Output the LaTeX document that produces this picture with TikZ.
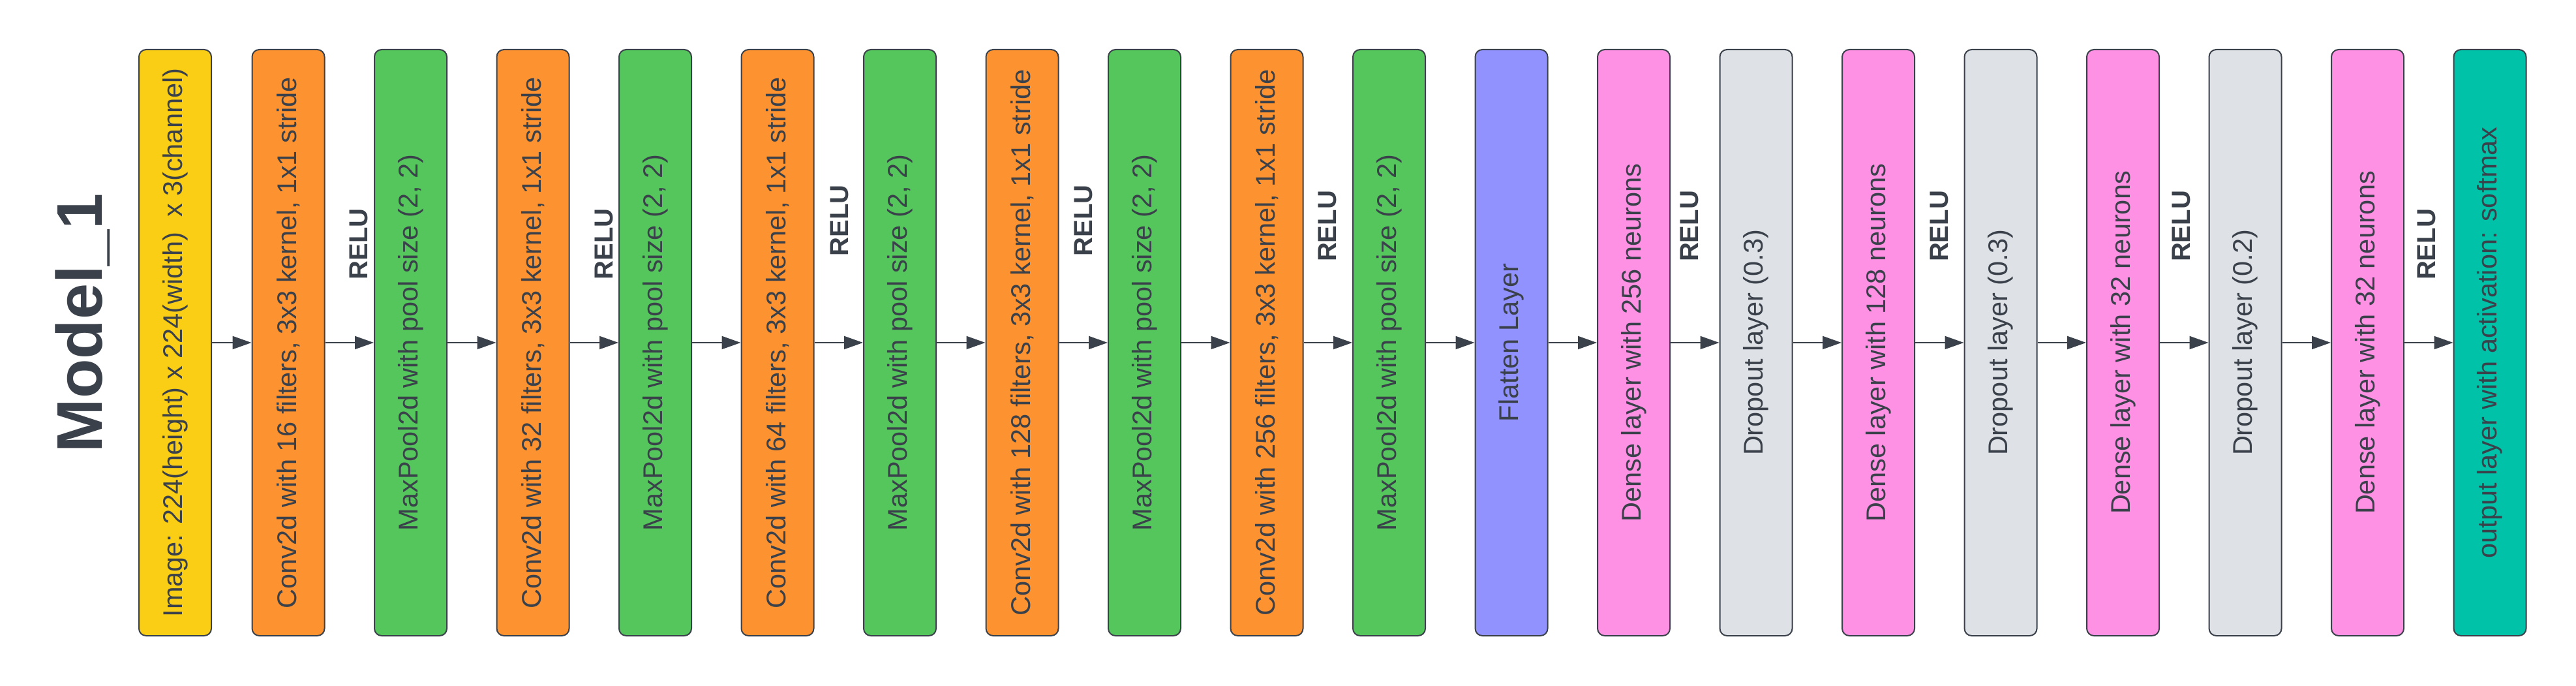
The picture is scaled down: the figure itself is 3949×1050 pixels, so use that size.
\documentclass[tikz,border=0pt]{standalone}
\usepackage{fontspec}
\setmainfont{Liberation Sans}
\usetikzlibrary{arrows.meta}
\definecolor{ink}{RGB}{58,65,74}
\definecolor{cyellow}{RGB}{250,206,20}
\definecolor{corange}{RGB}{252,146,48}
\definecolor{cgreen}{RGB}{84,198,92}
\definecolor{cpurple}{RGB}{146,146,255}
\definecolor{cpink}{RGB}{255,145,228}
\definecolor{cgrey}{RGB}{222,225,230}
\definecolor{cteal}{RGB}{0,194,168}
\begin{document}
\begin{tikzpicture}[x=1pt,y=1pt,
  layer/.style={draw=ink, line width=2pt, rounded corners=11pt, rotate=90,
    minimum width=898pt, minimum height=111pt, inner sep=0pt, text=ink,
    font=\fontsize{41.5}{49}\selectfont, anchor=center},
  relu/.style={rotate=90, anchor=base, inner sep=0pt, text=ink,
    font=\bfseries\fontsize{40}{48}\selectfont},
  conn/.style={draw=ink, line width=2pt, -{Triangle[length=29pt,width=20pt]}}]
\useasboundingbox (0,0) rectangle (3949,1050);

\node[rotate=90, anchor=base, inner sep=0pt, text=ink,
  font=\bfseries\fontsize{99}{110}\selectfont] (title) at (156,555) {Model\_1};

\node[layer, fill=cyellow] (n0) at (268.5,525) {Image: 224(height) x 224(width)\hspace{0.55em}x 3(channel)};
\node[layer, fill=corange] (n1) at (442,525) {Conv2d with 16 filters, 3x3 kernel, 1x1 stride};
\node[layer, fill=cgreen] (n2) at (629.5,525) {MaxPool2d with pool size (2, 2)};
\node[layer, fill=corange] (n3) at (817,525) {Conv2d with 32 filters, 3x3 kernel, 1x1 stride};
\node[layer, fill=cgreen] (n4) at (1004.5,525) {MaxPool2d with pool size (2, 2)};
\node[layer, fill=corange] (n5) at (1192,525) {Conv2d with 64 filters, 3x3 kernel, 1x1 stride};
\node[layer, fill=cgreen] (n6) at (1379.5,525) {MaxPool2d with pool size (2, 2)};
\node[layer, fill=corange] (n7) at (1567,525) {Conv2d with 128 filters, 3x3 kernel, 1x1 stride};
\node[layer, fill=cgreen] (n8) at (1754.5,525) {MaxPool2d with pool size (2, 2)};
\node[layer, fill=corange] (n9) at (1942,525) {Conv2d with 256 filters, 3x3 kernel, 1x1 stride};
\node[layer, fill=cgreen] (n10) at (2129.5,525) {MaxPool2d with pool size (2, 2)};
\node[layer, fill=cpurple] (n11) at (2317,525) {Flatten Layer};
\node[layer, fill=cpink] (n12) at (2504.5,525) {Dense layer with 256 neurons};
\node[layer, fill=cgrey] (n13) at (2692,525) {Dropout layer (0.3)};
\node[layer, fill=cpink] (n14) at (2879.5,525) {Dense layer with 128 neurons};
\node[layer, fill=cgrey] (n15) at (3067,525) {Dropout layer (0.3)};
\node[layer, fill=cpink] (n16) at (3254.5,525) {Dense layer with 32 neurons};
\node[layer, fill=cgrey] (n17) at (3442,525) {Dropout layer (0.2)};
\node[layer, fill=cpink] (n18) at (3629.5,525) {Dense layer with 32 neurons};
\node[layer, fill=cteal] (n19) at (3817,525) {output layer with activation: softmax};

\foreach \a/\b in {0/1,1/2,2/3,3/4,4/5,5/6,6/7,7/8,8/9,9/10,10/11,11/12,12/13,13/14,14/15,15/16,16/17,17/18,18/19}
  \draw[conn] (n\a.south) -- (n\b.north);

\node[relu] (r1) at (563,676) {RELU};
\node[relu] (r2) at (939,676) {RELU};
\node[relu] (r3) at (1300,712) {RELU};
\node[relu] (r4) at (1674,712) {RELU};
\node[relu] (r5) at (2048,703.5) {RELU};
\node[relu] (r6) at (2603,703.5) {RELU};
\node[relu] (r7) at (2986,703.5) {RELU};
\node[relu] (r8) at (3357,703.5) {RELU};
\node[relu] (r9) at (3733,675.5) {RELU};
\end{tikzpicture}
\end{document}
